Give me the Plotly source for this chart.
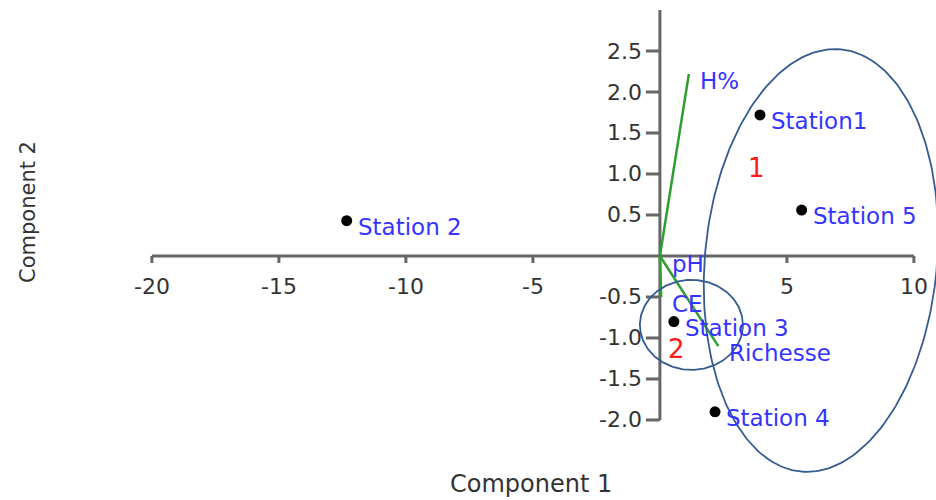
import numpy as np
import plotly.graph_objects as go

# Sample scores on the first two principal components
stations = ["Station1", "Station 2", "Station 3", "Station 4", "Station 5"]
comp1 = [3.94, -12.33, 0.55, 2.17, 5.58]
comp2 = [1.72, 0.43, -0.80, -1.90, 0.56]

# Variable loadings (biplot vectors)
variables = ["H%", "pH", "CE", "Richesse"]
load1 = [1.14, 0.04, 0.05, 2.30]
load2 = [2.22, -0.01, -0.50, -1.10]

# Group labels
groups = ["1", "2"]
group_x = [3.82, 0.67]
group_y = [1.07, -1.13]

# Axis ticks
x_ticks = [-20, -15, -10, -5, 5, 10]
y_ticks = [-2.0, -1.5, -1.0, -0.5, 0.5, 1.0, 1.5, 2.0, 2.5]
x_tick_labels = ["-20", "-15", "-10", "-5", "5", "10"]
y_tick_labels = ["-2.0", "-1.5", "-1.0", "-0.5", "0.5", "1.0", "1.5", "2.0", "2.5"]

W, H = 936, 500
X_RANGE = [-25.98, 10.87]
Y_RANGE = [-2.976, 3.122]
SX = W / (X_RANGE[1] - X_RANGE[0])   # pixels per x unit
SY = H / (Y_RANGE[1] - Y_RANGE[0])   # pixels per y unit

FONT = "DejaVu Sans"
AXIS_COLOR = "#666666"
TEXT_COLOR = "#333333"
LABEL_COLOR = "#3434ff"
VECTOR_COLOR = "#2e9e2e"
ELLIPSE_COLOR = "#365a92"
X_SPAN = [-20, 10]
Y_SPAN = [-2.0, 3.0]


def ellipse_path(cx, cy, a_px, b_px, tilt_deg):
    """Outline of an ellipse given in screen pixels, tilted clockwise."""
    t = np.linspace(0, 2 * np.pi, 241)
    th = np.radians(tilt_deg)
    u = a_px * np.cos(t)
    v = b_px * np.sin(t)
    xp = u * np.cos(th) + v * np.sin(th)
    yp = -u * np.sin(th) + v * np.cos(th)
    return cx + xp / SX, cy + yp / SY


fig = go.Figure()

# Axes crossing at the origin
ax_x, ax_y = [], []
ax_x += [X_SPAN[0], X_SPAN[1], None, 0, 0]
ax_y += [0, 0, None, Y_SPAN[0], Y_SPAN[1]]
xt_len = 7 / SY
yt_len = 14 / SX
for v in x_ticks:
    ax_x += [None, v, v]
    ax_y += [None, 0, -xt_len]
for v in y_ticks:
    ax_x += [None, 0, -yt_len]
    ax_y += [None, v, v]
fig.add_trace(go.Scatter(x=ax_x, y=ax_y, mode="lines",
                         line=dict(color=AXIS_COLOR, width=3),
                         hoverinfo="skip", showlegend=False))

# Loading vectors
vx, vy = [], []
for a, b in zip(load1, load2):
    vx += [0, a, None]
    vy += [0, b, None]
fig.add_trace(go.Scatter(x=vx, y=vy, mode="lines",
                         line=dict(color=VECTOR_COLOR, width=2.5),
                         hoverinfo="skip", showlegend=False))

# Group ellipses
for cx, cy, a_px, b_px, tilt in [(6.34, -0.055, 116, 212, 5.4),
                                 (1.24, -0.84, 51.5, 45, 0)]:
    ex, ey = ellipse_path(cx, cy, a_px, b_px, tilt)
    fig.add_trace(go.Scatter(x=ex, y=ey, mode="lines",
                             line=dict(color=ELLIPSE_COLOR, width=1.8),
                             hoverinfo="skip", showlegend=False))

# Station scores
fig.add_trace(go.Scatter(x=comp1, y=comp2, mode="markers",
                         marker=dict(color="black", size=11),
                         text=stations, hoverinfo="text", showlegend=False))

annotations = []
for name, x, y in zip(stations, comp1, comp2):
    annotations.append(dict(x=x, y=y, text=name, showarrow=False,
                            xanchor="left", yanchor="middle",
                            xshift=9, yshift=-6,
                            font=dict(family=FONT, size=23, color=LABEL_COLOR)))
for name, x, y in zip(variables, load1, load2):
    annotations.append(dict(x=x, y=y, text=name, showarrow=False,
                            xanchor="left", yanchor="middle",
                            xshift=9, yshift=-7,
                            font=dict(family=FONT, size=23, color=LABEL_COLOR)))
for name, x, y in zip(groups, group_x, group_y):
    annotations.append(dict(x=x, y=y, text=name, showarrow=False,
                            xanchor="center", yanchor="middle",
                            font=dict(family=FONT, size=26, color="#ff1a1a")))
for v, s in zip(x_ticks, x_tick_labels):
    annotations.append(dict(x=v, y=0, text=s, showarrow=False,
                            xanchor="center", yanchor="middle", yshift=-31,
                            font=dict(family=FONT, size=22, color=TEXT_COLOR)))
for v, s in zip(y_ticks, y_tick_labels):
    annotations.append(dict(x=0, y=v, text=s, showarrow=False,
                            xanchor="right", yanchor="middle", xshift=-16,
                            font=dict(family=FONT, size=22, color=TEXT_COLOR)))

annotations.append(dict(xref="paper", yref="paper", x=531 / W, y=1 - 484 / H,
                        text="Component 1", showarrow=False,
                        xanchor="center", yanchor="middle",
                        font=dict(family=FONT, size=24, color=TEXT_COLOR)))
annotations.append(dict(xref="paper", yref="paper", x=28 / W, y=1 - 212 / H,
                        text="Component 2", showarrow=False, textangle=-90,
                        xanchor="center", yanchor="middle",
                        font=dict(family=FONT, size=21, color=TEXT_COLOR)))

fig.update_layout(
    width=W, height=H,
    margin=dict(l=0, r=0, t=0, b=0),
    paper_bgcolor="white", plot_bgcolor="white",
    xaxis=dict(range=X_RANGE, visible=False, fixedrange=True),
    yaxis=dict(range=Y_RANGE, visible=False, fixedrange=True),
    annotations=annotations,
    showlegend=False,
)

fig.write_html("out.html")
